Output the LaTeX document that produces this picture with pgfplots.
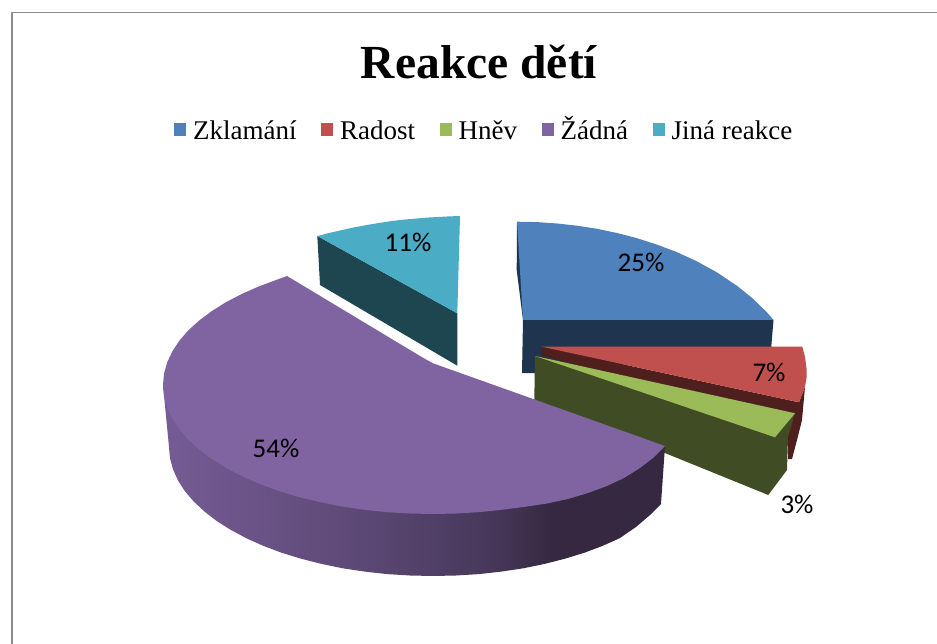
\documentclass[border=0pt]{standalone}
\usepackage{fontspec}
\usepackage{pgfplots}
\pgfplotsset{compat=1.18}
\setmainfont{Liberation Serif}
\newfontfamily\calibri{Carlito}
\definecolor{cBlue}{HTML}{4F81BD}
\definecolor{cRed}{HTML}{C0504D}
\definecolor{cGreen}{HTML}{9BBB59}
\definecolor{cPurple}{HTML}{8064A2}
\definecolor{cTeal}{HTML}{4BACC6}
\definecolor{dBlue}{HTML}{1F344E}
\definecolor{dRed}{HTML}{4F1F1E}
\definecolor{dGreen}{HTML}{404C24}
\definecolor{dTeal}{HTML}{1E4651}
\definecolor{dPurple}{HTML}{352840}
\definecolor{frameGray}{HTML}{8C8C8C}
\pgfdeclarehorizontalshading{purpleside}{100bp}{
  color(0bp)=(cPurple!92!black);
  color(25bp)=(cPurple!92!black);
  color(45bp)=(cPurple!72!black);
  color(58bp)=(cPurple!55!black);
  color(64bp)=(dPurple);
  color(75bp)=(dPurple);
  color(100bp)=(dPurple)}
\begin{document}
\begin{tikzpicture}
\begin{axis}[
  width=937pt, height=644pt, scale only axis,
  xmin=0, xmax=937, ymin=0, ymax=644, y dir=reverse,
  axis lines=none, ticks=none, clip=true,
  title={Reakce dětí},
  title style={at={(axis cs:479,84.5)}, anchor=base, inner sep=0pt,
    font=\fontsize{47.5}{50}\selectfont\bfseries},
  legend columns=5,
  legend image code/.code={\fill[#1] (0pt,-3pt) rectangle (12pt,10pt);\path (0pt,0pt) (17pt,0pt);},
  legend style={at={(axis cs:174,133)}, anchor=west, draw=none, fill=none,
    inner sep=0pt, font=\fontsize{27}{30}\selectfont,
    nodes={text height=19pt, text depth=6pt},
    /tikz/every even column/.append style={column sep=22.5pt}},
]
% background, fixes the page size
\addplot[fill=white, draw=none, forget plot] coordinates {(0,0)(937,0)(937,644)(0,644)} --cycle;
% frame
\addplot[frameGray, line width=2.4pt, forget plot] coordinates {(12,644)(12,12)};
\addplot[frameGray, line width=1.2pt, forget plot] coordinates {(11,12.5)(937,12.5)};
% Zklamani
\addplot[fill=dBlue, draw=none, forget plot] coordinates {(517,222)(516.7,270)(523,320)(522,373)(536,373)(771,350)(773.5,320)} --cycle;
\addplot[fill=cBlue, draw=none, forget plot] coordinates {(517,221.7)(537,222.1)(557,223.5)(577,225.7)(597,228.8)(617,233)(637,238.2)(657,244.6)(677,252.2)(697,261.4)(717,272.4)(737,285.8)(752,297.9)(767,312.4)(773.5,320)(523,320)} --cycle;
% Radost
\addplot[fill=dRed, draw=none, forget plot] coordinates {(541.7,346.7)(799,402.3)(805,386.7)(802,420)(797,440)(792,459)(788,459)(788,420)(541.7,356)} --cycle;
\addplot[fill=cRed, draw=none, forget plot] coordinates {(541.7,346.7)(802.3,346.7)(805,357)(806.7,370)(806.5,378)(805,386.7)(802,395)(799,402.3)} --cycle;
% Hnev
\addplot[fill=dGreen, draw=none, forget plot] coordinates {(535,356)(795,413.3)(788,437)(787,470)(768.3,495)(534.3,400)} --cycle;
\addplot[fill=cGreen, draw=none, forget plot] coordinates {(535,356)(795,413.3)(775,437.3)} --cycle;
% Jina reakce
\addplot[fill=dTeal, draw=none, forget plot] coordinates {(317.3,236)(320,285)(457.3,365.7)(457.3,313.3)} --cycle;
\addplot[fill=cTeal, draw=none, forget plot] coordinates {(460,216)(449,216.4)(438,217)(427,217.6)(416.7,218.5)(404,219.6)(392,221)(379,223)(366.7,225)(354,227.4)(342,230)(330,232.8)(317.3,236)(457.3,313.3)} --cycle;
% Zadna
\addplot[shading=purpleside, draw=none, forget plot] coordinates {(163,385)(169,447)(170,458.2)(173,469.4)(178,480.4)(184.8,491.1)(193.7,501.5)(204.4,511.5)(216.7,521)(230.8,529.9)(246.3,538.2)(263.2,545.8)(281.5,552.7)(301,558.7)(321.4,563.9)(342.7,568.3)(364.7,571.6)(387,574.1)(410,575.5)(433,576)(456,575.5)(479,574.1)(501.3,571.6)(523.3,568.3)(544.6,563.9)(565,558.7)(584.5,552.7)(602.8,545.8)(619.7,538.2)(636,527)(650,515)(661,504)(665,446)} --cycle;
\addplot[fill=cPurple, draw=none, forget plot] coordinates {(287,276)(278,279.3)(259.4,286.2)(242.1,293.8)(226.2,302.1)(211.9,311)(199.2,320.5)(188.3,330.4)(179.2,340.9)(172.2,351.6)(167.1,362.6)(164,373.8)(163,385)(164,396.2)(167.1,407.4)(172.2,418.4)(179.2,429.1)(188.3,439.5)(199.2,449.5)(211.9,459)(226.2,467.9)(242.1,476.2)(259.4,483.8)(278,490.7)(298,496.7)(318.9,501.9)(340.7,506.3)(363,509.6)(386.1,512.1)(409.5,513.5)(433,514)(456.5,513.5)(480,512.1)(503,509.6)(525.3,506.8)(547,503.5)(568,499)(588,493)(607,486)(624,478)(640,468)(653,458)(665,446)(433,363.3)(427,360)(420,356)} --cycle;
% legend
\addlegendimage{fill=cBlue, draw=none}
\addlegendentry{Zklamání}
\addlegendimage{fill=cRed, draw=none}
\addlegendentry{Radost}
\addlegendimage{fill=cGreen, draw=none}
\addlegendentry{Hněv}
\addlegendimage{fill=cPurple, draw=none}
\addlegendentry{Žádná}
\addlegendimage{fill=cTeal, draw=none}
\addlegendentry{Jiná reakce}
% value labels
\node[font=\fontsize{27}{29}\selectfont\calibri] at (axis cs:641,262) {25\%};
\node[font=\fontsize{27}{29}\selectfont\calibri] at (axis cs:769,372) {7\%};
\node[font=\fontsize{27}{29}\selectfont\calibri] at (axis cs:797,504) {3\%};
\node[font=\fontsize{27}{29}\selectfont\calibri] at (axis cs:408,242) {11\%};
\node[font=\fontsize{27}{29}\selectfont\calibri] at (axis cs:276,448) {54\%};
\end{axis}
\end{tikzpicture}
\end{document}
